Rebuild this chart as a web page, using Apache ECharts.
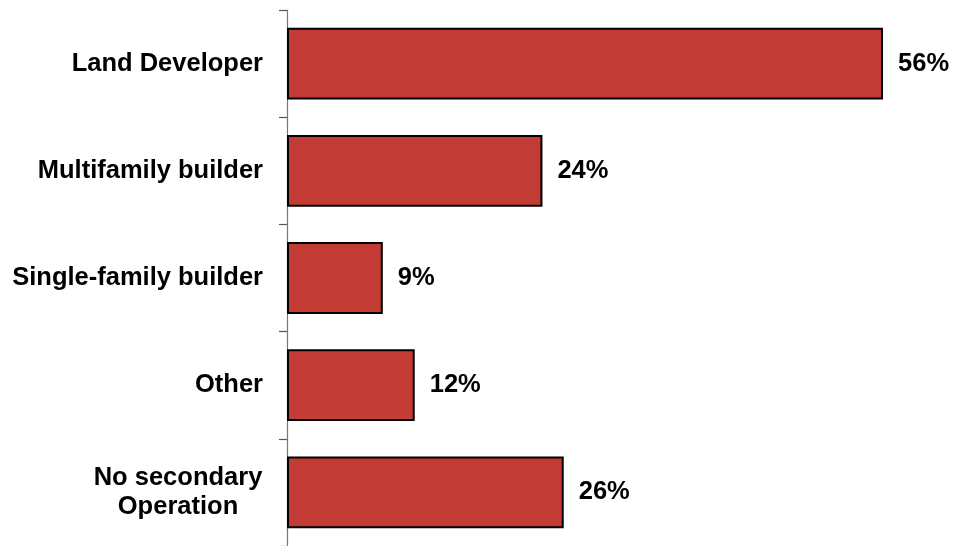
<!DOCTYPE html>
<html>
<head>
<meta charset="utf-8">
<script src="https://cdn.jsdelivr.net/npm/echarts@6/dist/echarts.min.js"></script>
<style>
  html, body { margin: 0; padding: 0; background: #ffffff; }
  #chart { width: 954px; height: 546px; }
</style>
</head>
<body>
<div id="chart"></div>
<script>
// Secondary operations, share of respondents (%)
var categories = ['Land Developer', 'Multifamily builder', 'Single-family builder', 'Other', 'No secondary\nOperation'];
var shares = [56, 24, 9, 12, 26];
var axisMax = 60;

var FONT = '"Liberation Sans", Arial, sans-serif';
var chart = echarts.init(document.getElementById('chart'));

chart.setOption({
  backgroundColor: '#ffffff',
  animation: false,
  grid: { left: 287, right: 28.4, top: 10, bottom: -2, containLabel: false },
  xAxis: {
    type: 'value',
    min: 0,
    max: axisMax,
    show: false
  },
  yAxis: {
    type: 'category',
    inverse: true,
    data: categories,
    axisLine: { show: true, lineStyle: { color: '#777777', width: 1.2 } },
    axisTick: { show: true, length: 8, lineStyle: { color: '#555555', width: 1.2 } },
    splitLine: { show: false },
    axisLabel: {
      margin: 24,
      color: '#000000',
      fontFamily: FONT,
      fontWeight: 'bold',
      fontSize: 25.5,
      formatter: function (v) {
        if (v.indexOf('\n') >= 0) {
          return v.split('\n').map(function (s) { return '{c|' + s + '}'; }).join('\n');
        }
        return v;
      },
      rich: {
        c: {
          width: 170,
          align: 'center',
          lineHeight: 29,
          color: '#000000',
          fontFamily: FONT,
          fontWeight: 'bold',
          fontSize: 25.5
        }
      }
    }
  },
  series: [{
    type: 'bar',
    data: shares,
    barCategoryGap: '33%',
    itemStyle: {
      color: '#C23B34',
      borderColor: '#000000',
      borderWidth: 2
    },
    label: {
      show: true,
      position: 'right',
      distance: 15,
      formatter: '{c}%',
      color: '#000000',
      fontFamily: FONT,
      fontWeight: 'bold',
      fontSize: 25.5
    }
  }]
});
</script>
</body>
</html>
